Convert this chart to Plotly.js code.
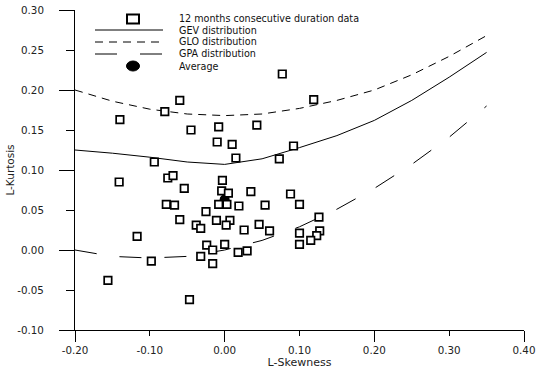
<!DOCTYPE html>
<html>
<head>
<meta charset="utf-8">
<script src="https://cdn.plot.ly/plotly-3.0.1.min.js"></script>
<style>html,body{margin:0;padding:0;background:#fff;}#chart{width:536px;height:370px;}</style>
</head>
<body>
<div id="chart"></div>
<script>
// ---- data ----
var dataSkew = [-0.140,-0.080,-0.060,-0.045,-0.008,0.043,0.077,0.119,-0.010,0.010,0.015,0.092,0.073,-0.094,
  -0.141,-0.076,-0.069,-0.054,-0.003,-0.004,0.005,0.035,-0.078,-0.067,-0.008,0.003,0.019,0.054,-0.025,
  -0.060,-0.011,0.007,-0.038,-0.032,0.002,0.026,0.046,0.060,-0.117,-0.024,0.000,-0.016,0.018,0.030,
  -0.032,-0.098,-0.016,-0.156,-0.047,0.088,0.100,0.126,0.100,0.127,0.123,0.115,0.100];
var dataKurt = [0.163,0.173,0.187,0.150,0.154,0.156,0.220,0.188,0.135,0.132,0.115,0.130,0.114,0.110,
  0.085,0.090,0.093,0.077,0.087,0.074,0.071,0.073,0.057,0.056,0.057,0.057,0.055,0.056,0.048,
  0.038,0.037,0.037,0.031,0.027,0.031,0.025,0.032,0.024,0.017,0.006,0.007,0.000,-0.003,-0.001,
  -0.008,-0.014,-0.017,-0.038,-0.062,0.070,0.057,0.041,0.021,0.024,0.018,0.012,0.007];

var avgSkew = [0.000];
var avgKurt = [0.063];

var curveSkew = [-0.20,-0.15,-0.10,-0.05,0.00,0.05,0.10,0.15,0.20,0.25,0.30,0.35];
var gevKurt   = [0.125,0.121,0.116,0.110,0.107,0.114,0.128,0.143,0.162,0.187,0.216,0.247];
var gloKurt   = [0.200,0.186,0.176,0.170,0.168,0.170,0.177,0.187,0.200,0.219,0.242,0.268];
var gpaKurt   = [0.000,-0.008,-0.010,-0.008,0.000,0.012,0.029,0.051,0.077,0.107,0.141,0.180];

var xTickVals = [-0.20,-0.10,0.00,0.10,0.20,0.30,0.40];
var xTickText = ["-0.20","-0.10","0.00","0.10","0.20","0.30","0.40"];
var yTickVals = [-0.10,-0.05,0.00,0.05,0.10,0.15,0.20,0.25,0.30];
var yTickText = ["-0.10","-0.05","0.00","0.05","0.10","0.15","0.20","0.25","0.30"];
var xMajorVals = [-0.20,0.00,0.20,0.40];
var yMajorVals = [-0.10,0.00,0.10,0.20,0.30];

var legendLabels = ["12 months consecutive duration data","GEV distribution","GLO distribution","GPA distribution","Average"];

// ---- chart ----
var FONT = "DejaVu Sans, Verdana, sans-serif";
var traces = [
  {x: curveSkew, y: gevKurt, mode: "lines", line: {color: "#000", width: 1}, hoverinfo: "skip"},
  {x: curveSkew, y: gloKurt, mode: "lines", line: {color: "#000", width: 1, dash: "8px,6px"}, hoverinfo: "skip"},
  {x: curveSkew, y: gpaKurt, mode: "lines", line: {color: "#000", width: 1, dash: "22px,23px"}, hoverinfo: "skip"},
  {x: avgSkew, y: avgKurt, mode: "markers", marker: {symbol: "circle", size: 10, color: "#000"}},
  {x: dataSkew, y: dataKurt, mode: "markers",
   marker: {symbol: "square", size: 7.5, color: "#fff", line: {color: "#000", width: 1.7}}},
  // empty trace so the overlay axes (long major ticks) are drawn
  {x: [], y: [], xaxis: "x2", yaxis: "y2", mode: "markers", hoverinfo: "skip"}
];

// plot area pixel box: left 75, right 524, top 10, bottom 330
function P(px){ return (px - 75) / 449; }
function Q(py){ return (330 - py) / 320; }
var rows = [19, 30, 42, 54, 66];
var shapes = [
  {type: "rect", xref: "paper", yref: "paper", x0: P(127), x1: P(139), y0: Q(23.5), y1: Q(14.5),
   line: {color: "#000", width: 2}, fillcolor: "#fff"},
  {type: "line", xref: "paper", yref: "paper", x0: P(95), x1: P(163), y0: Q(rows[1]), y1: Q(rows[1]),
   line: {color: "#000", width: 1}},
  {type: "line", xref: "paper", yref: "paper", x0: P(95), x1: P(163), y0: Q(rows[2]), y1: Q(rows[2]),
   line: {color: "#000", width: 1, dash: "8px,6px"}},
  {type: "line", xref: "paper", yref: "paper", x0: P(95), x1: P(163), y0: Q(rows[3]), y1: Q(rows[3]),
   line: {color: "#000", width: 1, dash: "22px,23px"}},
  {type: "circle", xref: "paper", yref: "paper", x0: P(126.5), x1: P(139.5), y0: Q(71), y1: Q(61),
   line: {color: "#000", width: 1}, fillcolor: "#000"}
];
var annotations = legendLabels.map(function(t, i){
  return {text: t, xref: "paper", yref: "paper", x: P(177), y: Q(rows[i]), xanchor: "left", yanchor: "middle",
          showarrow: false, font: {family: FONT, size: 9.6, color: "#111"}};
});

var axisCommon = {showgrid: false, zeroline: false, showline: true, linecolor: "#000", linewidth: 1,
  ticks: "outside", tickcolor: "#000", tickwidth: 1, tickfont: {family: FONT, size: 10.3, color: "#222"},
  fixedrange: true};

var layout = {
  width: 536, height: 370,
  margin: {l: 75, r: 12, t: 10, b: 40},
  paper_bgcolor: "#fff", plot_bgcolor: "#fff",
  showlegend: false,
  font: {family: FONT, color: "#222"},
  xaxis: Object.assign({}, axisCommon, {range: [-0.2, 0.4], tickmode: "array", tickvals: xTickVals,
    ticktext: xTickText, ticklen: 5, ticklabelstandoff: 6, automargin: false,
    title: {text: "L-Skewness", font: {family: FONT, size: 11, color: "#222"}, standoff: 0}}),
  yaxis: Object.assign({}, axisCommon, {range: [-0.1, 0.3], tickmode: "array", tickvals: yTickVals,
    ticktext: yTickText, ticklen: 8, ticklabelstandoff: 20, automargin: false,
    title: {text: "L-Kurtosis", font: {family: FONT, size: 10.5, color: "#222"}, standoff: 0}}),
  xaxis2: {overlaying: "x", anchor: "y", side: "bottom", range: [-0.2, 0.4], tickmode: "array", tickvals: xMajorVals,
    showticklabels: false, ticks: "outside", ticklen: 11, tickcolor: "#000", tickwidth: 1,
    showgrid: false, zeroline: false, showline: false, fixedrange: true},
  yaxis2: {overlaying: "y", anchor: "x", side: "left", range: [-0.1, 0.3], tickmode: "array", tickvals: yMajorVals,
    showticklabels: false, ticks: "outside", ticklen: 15, tickcolor: "#000", tickwidth: 1,
    showgrid: false, zeroline: false, showline: false, fixedrange: true},
  shapes: shapes,
  annotations: annotations
};

Plotly.newPlot("chart", traces, layout, {displayModeBar: false, staticPlot: true});
</script>
</body>
</html>
